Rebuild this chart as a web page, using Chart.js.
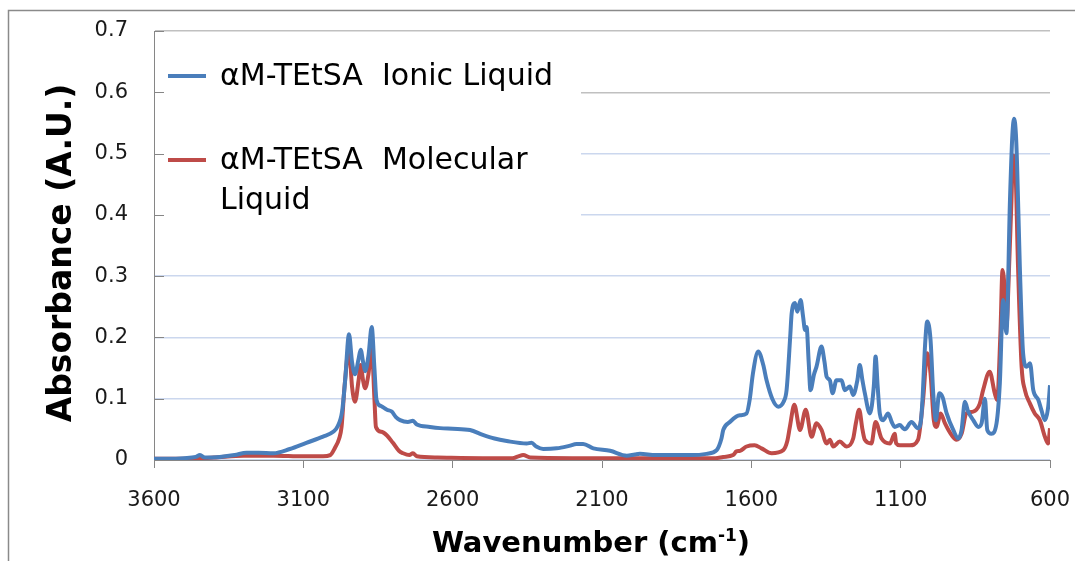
<!DOCTYPE html>
<html>
<head>
<meta charset="utf-8">
<script src="https://cdn.jsdelivr.net/npm/chart.js@4"></script>
<style>
  html, body { margin: 0; padding: 0; background: #ffffff; }
  #wrap { width: 1075px; height: 561px; }
</style>
</head>
<body>
<div id="wrap"><canvas id="c" width="1075" height="561"></canvas></div>
<script>
// ---- Data ----
const seriesNames = ["\u03b1M-TEtSA  Ionic Liquid", "\u03b1M-TEtSA  Molecular Liquid"];
const xTickValues = [3600, 3100, 2600, 2100, 1600, 1100, 600];
const yTickValues = [0, 0.1, 0.2, 0.3, 0.4, 0.5, 0.6, 0.7];

const ionicWavenumber = [3600,3550,3500,3460,3446,3430,3380,3330,3290,3250,3200,3145,3090,3034,3000,2985,2970,2960,2947,2937,2927,2915,2908,2900,2893,2882,2871,2862,2855,2840,2820,2804,2790,2776,2750,2733,2720,2676,2642,2600,2542,2499,2460,2419,2352,2336,2320,2297,2252,2210,2185,2163,2129,2073,2017,1990,1973,1920,1861,1800,1750,1716,1700,1694,1672,1650,1638,1616,1605,1595,1577,1560,1549,1530,1510,1492,1482,1470,1465,1454,1446,1435,1427,1420,1415,1408,1402,1390,1382,1365,1355,1348,1337,1328,1315,1298,1287,1270,1259,1245,1237,1228,1220,1203,1190,1184,1177,1170,1159,1142,1130,1120,1103,1092,1086,1064,1042,1032,1027,1018,1011,1000,991,982,971,960,946,924,907,896,885,874,857,840,829,818,810,796,779,768,757,746,734,726,720,714,710,701,690,678,667,656,639,628,617,606,600];
const ionicAbsorbance = [0.002,0.002,0.003,0.005,0.008,0.004,0.005,0.008,0.012,0.012,0.011,0.018,0.028,0.038,0.046,0.055,0.08,0.13,0.205,0.16,0.14,0.165,0.18,0.16,0.145,0.17,0.217,0.15,0.098,0.088,0.082,0.079,0.07,0.065,0.062,0.064,0.058,0.054,0.052,0.051,0.049,0.041,0.035,0.031,0.027,0.028,0.022,0.018,0.019,0.023,0.026,0.026,0.019,0.015,0.007,0.009,0.01,0.008,0.008,0.008,0.01,0.016,0.035,0.049,0.062,0.071,0.073,0.076,0.1,0.14,0.177,0.155,0.13,0.1,0.087,0.095,0.114,0.2,0.239,0.256,0.242,0.261,0.235,0.212,0.217,0.16,0.114,0.14,0.152,0.185,0.16,0.136,0.13,0.109,0.13,0.13,0.114,0.12,0.106,0.13,0.155,0.13,0.109,0.076,0.12,0.169,0.12,0.076,0.065,0.076,0.062,0.054,0.057,0.052,0.05,0.062,0.052,0.065,0.098,0.19,0.226,0.196,0.109,0.065,0.109,0.103,0.076,0.049,0.035,0.049,0.095,0.079,0.065,0.054,0.06,0.1,0.049,0.043,0.06,0.125,0.261,0.207,0.424,0.53,0.557,0.53,0.478,0.315,0.174,0.152,0.158,0.114,0.098,0.08,0.065,0.087,0.122];

const molecularWavenumber = [3600,3500,3400,3300,3200,3100,3034,3010,2994,2980,2972,2962,2947,2937,2927,2915,2908,2900,2893,2882,2871,2862,2857,2838,2820,2800,2780,2766,2745,2733,2720,2650,2500,2400,2380,2364,2340,2200,2000,1800,1720,1694,1661,1650,1638,1616,1589,1566,1532,1493,1480,1471,1456,1437,1418,1398,1382,1365,1348,1337,1326,1304,1281,1259,1250,1239,1228,1220,1198,1184,1164,1136,1120,1115,1103,1069,1042,1025,1011,1000,989,980,966,952,930,913,896,880,857,835,824,802,785,777,766,759,751,746,737,729,724,716,707,695,684,667,651,634,617,606,600];
const molecularAbsorbance = [0.002,0.002,0.004,0.007,0.007,0.006,0.006,0.008,0.02,0.035,0.054,0.12,0.182,0.12,0.095,0.13,0.155,0.13,0.117,0.14,0.183,0.1,0.054,0.046,0.04,0.028,0.015,0.011,0.008,0.011,0.006,0.004,0.003,0.003,0.006,0.008,0.004,0.003,0.003,0.003,0.003,0.005,0.008,0.014,0.015,0.022,0.024,0.019,0.011,0.016,0.03,0.054,0.09,0.049,0.082,0.038,0.06,0.049,0.027,0.033,0.022,0.03,0.022,0.035,0.06,0.082,0.05,0.033,0.027,0.062,0.035,0.027,0.043,0.027,0.024,0.024,0.033,0.098,0.174,0.141,0.065,0.054,0.076,0.06,0.041,0.033,0.043,0.076,0.079,0.092,0.114,0.144,0.109,0.098,0.207,0.31,0.272,0.217,0.315,0.424,0.497,0.478,0.315,0.152,0.114,0.092,0.076,0.065,0.038,0.027,0.052];

const seriesColors = ["#4a7ebb", "#be4b48"];

function toPoints(xs, ys) { return xs.map((x, i) => ({ x: x, y: ys[i] })); }

const FONT = "'DejaVu Sans', 'Open Sans', sans-serif";
const AXIS_GRAY = "#868686";

const decorPlugin = {
  id: 'decor',
  beforeDatasetsDraw(chart) {
    const ctx = chart.ctx;
    const ca = chart.chartArea;
    const y = chart.scales.y;
    ctx.save();
    ctx.fillStyle = '#ffffff';
    ctx.fillRect(ca.left + 1, ca.top + 1.5, 426, 212);
    ctx.strokeStyle = AXIS_GRAY;
    ctx.lineWidth = 1;
    yTickValues.forEach(v => {
      const py = Math.round(y.getPixelForValue(v)) + 0.5;
      ctx.beginPath();
      ctx.moveTo(ca.left, py);
      ctx.lineTo(ca.left + 10, py);
      ctx.stroke();
    });
    ctx.restore();
  },
  afterDraw(chart) {
    const ctx = chart.ctx;
    ctx.save();
    // legend
    ctx.lineWidth = 4;
    ctx.lineCap = 'butt';
    ctx.font = "30px " + FONT;
    ctx.fillStyle = '#000000';
    ctx.textBaseline = 'middle';
    ctx.textAlign = 'left';
    ctx.strokeStyle = seriesColors[0];
    ctx.beginPath(); ctx.moveTo(168, 76); ctx.lineTo(206, 76); ctx.stroke();
    ctx.fillText(seriesNames[0], 220, 77);
    ctx.strokeStyle = seriesColors[1];
    ctx.beginPath(); ctx.moveTo(168, 160); ctx.lineTo(206, 160); ctx.stroke();
    ctx.fillText("\u03b1M-TEtSA  Molecular", 220, 161);
    ctx.fillText("Liquid", 220, 201);

    // y axis title
    ctx.save();
    ctx.translate(62, 253);
    ctx.rotate(-Math.PI / 2);
    ctx.font = "bold 33px " + FONT;
    ctx.textAlign = 'center';
    ctx.textBaseline = 'middle';
    ctx.fillText("Absorbance (A.U.)", 0, 0);
    ctx.restore();

    // x axis title with superscript
    const mainFont = "bold 29px " + FONT;
    const supFont = "bold 17px " + FONT;
    const p1 = "Wavenumber (cm", p2 = "-1", p3 = ")";
    ctx.font = mainFont; const w1 = ctx.measureText(p1).width; const w3 = ctx.measureText(p3).width;
    ctx.font = supFont; const w2 = ctx.measureText(p2).width;
    const total = w1 + w2 + w3;
    let sx = 591 - total / 2;
    const base = 552;
    ctx.textAlign = 'left';
    ctx.textBaseline = 'alphabetic';
    ctx.font = mainFont; ctx.fillText(p1, sx, base); sx += w1;
    ctx.font = supFont; ctx.fillText(p2, sx, base - 11); sx += w2;
    ctx.font = mainFont; ctx.fillText(p3, sx, base);

    // outer frame
    ctx.strokeStyle = '#8a8a8a';
    ctx.lineWidth = 1.5;
    ctx.strokeRect(8.5, 10.5, 1200, 700);
    ctx.restore();
  }
};

new Chart(document.getElementById('c'), {
  type: 'line',
  data: {
    datasets: [
      {
        label: seriesNames[0],
        data: toPoints(ionicWavenumber, ionicAbsorbance),
        borderColor: seriesColors[0],
        borderWidth: 4,
        pointRadius: 0,
        cubicInterpolationMode: 'monotone',
        fill: false
      },
      {
        label: seriesNames[1],
        data: toPoints(molecularWavenumber, molecularAbsorbance),
        borderColor: seriesColors[1],
        borderWidth: 4,
        pointRadius: 0,
        cubicInterpolationMode: 'monotone',
        fill: false
      }
    ]
  },
  options: {
    responsive: false,
    animation: false,
    devicePixelRatio: 1,
    layout: { padding: { top: 31, right: 25, left: 0, bottom: 0 } },
    plugins: { legend: { display: false }, tooltip: { enabled: false }, title: { display: false } },
    scales: {
      x: {
        type: 'linear',
        reverse: true,
        min: 600,
        max: 3600,
        afterFit(scale) {
          scale.height = 101;
          scale.paddingLeft = 0; scale.paddingRight = 0;
          scale.paddingTop = 0; scale.paddingBottom = 0;
        },
        afterBuildTicks(scale) { scale.ticks = xTickValues.map(v => ({ value: v })); },
        ticks: {
          autoSkip: false,
          maxRotation: 0,
          color: '#1a1a1a',
          font: { family: FONT, size: 21 },
          padding: 20,
          callback: v => String(v)
        },
        grid: { drawOnChartArea: false, drawTicks: true, tickLength: 8, color: AXIS_GRAY },
        border: { display: true, color: AXIS_GRAY, width: 1 }
      },
      y: {
        type: 'linear',
        min: 0,
        max: 0.7,
        afterFit(scale) {
          scale.width = 154;
          scale.paddingLeft = 0; scale.paddingRight = 0;
          scale.paddingTop = 0; scale.paddingBottom = 0;
        },
        afterBuildTicks(scale) { scale.ticks = yTickValues.map(v => ({ value: v })); },
        ticks: {
          color: '#1a1a1a',
          font: { family: FONT, size: 21 },
          padding: 26,
          callback: v => (v === 0 ? '0' : Number(v).toFixed(1))
        },
        grid: {
          drawTicks: false,
          lineWidth: 1.5,
          color: c => (c.tick && c.tick.value >= 0.55 ? '#c0c0c0' : '#cbd7ee')
        },
        border: { display: true, color: AXIS_GRAY, width: 1 }
      }
    }
  },
  plugins: [decorPlugin]
});
</script>
</body>
</html>
